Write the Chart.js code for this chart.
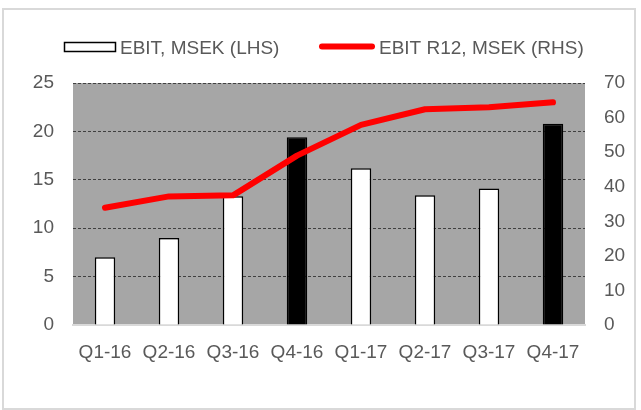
<!DOCTYPE html>
<html>
<head>
<meta charset="utf-8">
<script src="https://cdn.jsdelivr.net/npm/chart.js@4.4.1/dist/chart.umd.min.js"></script>
<style>
  html, body { margin: 0; padding: 0; background: #fff; }
  canvas { display: block; }
</style>
</head>
<body>
<canvas id="c" width="641" height="410"></canvas>
<script>
const quarters = ['Q1-16', 'Q2-16', 'Q3-16', 'Q4-16', 'Q1-17', 'Q2-17', 'Q3-17', 'Q4-17']
const ebit = [7.0, 9.0, 13.3, 19.4, 16.2, 13.4, 14.1, 20.8]
const ebitR12 = [33.9, 37.2, 37.5, 49.0, 57.9, 62.4, 63.0, 64.4]
const leftTicks = { min: 0, max: 25, step: 5 }
const rightTicks = { min: 0, max: 70, step: 10 }

const FONT = '"Liberation Sans", Arial, sans-serif'
const TEXT = '#595959'

// gray plot background + light frame round the whole chart
const backdrop = {
  id: 'backdrop',
  beforeDraw (chart) {
    const { ctx, chartArea: a } = chart
    ctx.save()
    ctx.fillStyle = '#fff'
    ctx.fillRect(0, 0, chart.width, chart.height)
    ctx.fillStyle = '#a6a6a6'
    ctx.fillRect(a.left, a.top, a.right - a.left, a.bottom - a.top)
    ctx.strokeStyle = '#d9d9d9'
    ctx.lineWidth = 2
    ctx.strokeRect(3, 9, 632, 400)
    ctx.restore()
  },
}

// legend drawn by hand so the box / line sizes match
const legendRow = {
  id: 'legendRow',
  afterDraw (chart) {
    const { ctx } = chart
    const [bars, line] = chart.data.datasets
    ctx.save()
    ctx.font = '19px ' + FONT
    ctx.fillStyle = TEXT
    ctx.textBaseline = 'alphabetic'

    ctx.fillStyle = '#fff'
    ctx.fillRect(64, 42, 52, 10)
    ctx.strokeStyle = '#000'
    ctx.lineWidth = 1.5
    ctx.strokeRect(64.5, 42.5, 51, 9)
    ctx.fillStyle = TEXT
    ctx.fillText(bars.label, 120, 54)

    ctx.strokeStyle = line.borderColor
    ctx.lineWidth = 6
    ctx.lineCap = 'round'
    ctx.beginPath()
    ctx.moveTo(322, 46.5)
    ctx.lineTo(372, 46.5)
    ctx.stroke()
    ctx.fillText(line.label, 379, 54)
    ctx.restore()
  },
}

new Chart(document.getElementById('c'), {
  data: {
    labels: quarters,
    datasets: [
      {
        type: 'bar',
        label: 'EBIT, MSEK (LHS)',
        data: ebit,
        yAxisID: 'y',
        backgroundColor: quarters.map(q => q.startsWith('Q4') ? '#000' : '#fff'),
        borderColor: '#000',
        borderWidth: 1.5,
        borderSkipped: 'bottom',
        categoryPercentage: 1,
        barPercentage: 0.32,
        order: 2,
      },
      {
        type: 'line',
        label: 'EBIT R12, MSEK (RHS)',
        data: ebitR12,
        yAxisID: 'y1',
        borderColor: '#ff0000',
        borderWidth: 6,
        borderCapStyle: 'round',
        borderJoinStyle: 'round',
        pointRadius: 0,
        tension: 0,
        order: 1,
      },
    ],
  },
  options: {
    responsive: false,
    animation: false,
    layout: { padding: { top: 83, left: 0, right: 0, bottom: 0 } },
    plugins: { legend: { display: false }, tooltip: { enabled: false } },
    scales: {
      x: {
        grid: { display: false, drawTicks: false },
        border: { color: '#d9d9d9', width: 2 },
        ticks: { color: TEXT, font: { family: FONT, size: 19 }, padding: 16, maxRotation: 0 },
        afterFit: s => { s.height = 85 },
      },
      y: {
        position: 'left',
        min: leftTicks.min,
        max: leftTicks.max,
        border: { display: false, dash: [3, 2] },
        grid: {
          drawTicks: false,
          color: ctx => ctx.tick && ctx.tick.value === 0 ? 'rgba(0,0,0,0)' : '#404040',
          lineWidth: 1,
        },
        ticks: { stepSize: leftTicks.step, color: TEXT, font: { family: FONT, size: 19 }, padding: 19 },
        afterFit: s => { s.width = 73 },
      },
      y1: {
        position: 'right',
        min: rightTicks.min,
        max: rightTicks.max,
        border: { display: false },
        grid: { display: false, drawTicks: false },
        ticks: { stepSize: rightTicks.step, color: TEXT, font: { family: FONT, size: 19 }, padding: 19 },
        afterFit: s => { s.width = 56 },
      },
    },
  },
  plugins: [backdrop, legendRow],
})
</script>
</body>
</html>
